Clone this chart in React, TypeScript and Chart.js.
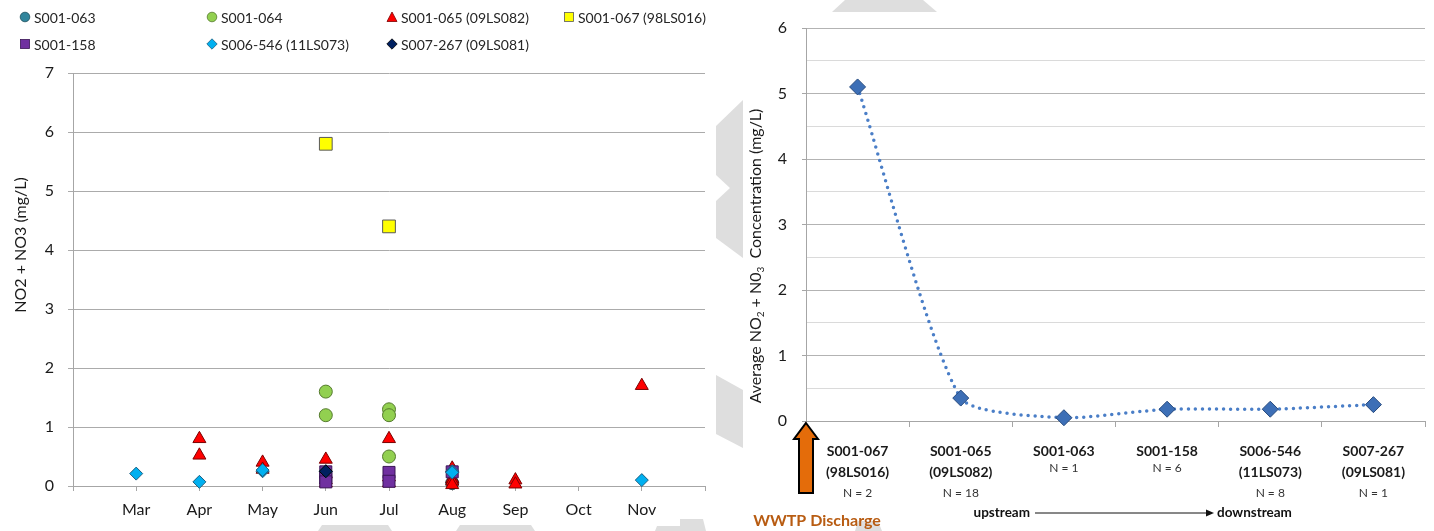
import React, { useEffect, useRef } from 'react';
import { Chart, registerables } from 'chart.js';

Chart.register(...registerables);

const FONT = 'Lato, "Open Sans", sans-serif';

// ---------- Left chart data (x = sampling month number, 3 = Mar) ----------
const monthLabels = ['Mar', 'Apr', 'May', 'Jun', 'Jul', 'Aug', 'Sep', 'Oct', 'Nov'];
const firstMonth = 3;

const s001_063_months = [8];
const s001_063_values = [0.05];

const s001_064_months = [6, 6, 7, 7, 7];
const s001_064_values = [1.6, 1.2, 1.3, 1.2, 0.5];

const s001_065_months = [4, 4, 5, 5, 6, 6, 6, 6, 7, 7, 7, 8, 8, 8, 8, 9, 9, 11];
const s001_065_values = [0.8, 0.52, 0.4, 0.28, 0.45, 0.2, 0.1, 0.05, 0.8, 0.15, 0.05, 0.3, 0.12, 0.08, 0.02, 0.1, 0.03, 1.7];

const s001_067_months = [6, 7];
const s001_067_values = [5.8, 4.4];

const s001_158_months = [6, 6, 6, 7, 7, 8];
const s001_158_values = [0.24, 0.14, 0.07, 0.23, 0.08, 0.24];

const s006_546_months = [3, 4, 5, 5, 6, 8, 8, 11];
const s006_546_values = [0.21, 0.07, 0.25, 0.27, 0.25, 0.25, 0.23, 0.1];

const s007_267_months = [6];
const s007_267_values = [0.25];

const seriesNames = ['S001-063', 'S001-064', 'S001-065 (09LS082)', 'S001-067 (98LS016)', 'S001-158', 'S006-546 (11LS073)', 'S007-267 (09LS081)'];
const seriesMonths = [s001_063_months, s001_064_months, s001_065_months, s001_067_months, s001_158_months, s006_546_months, s007_267_months];
const seriesValues = [s001_063_values, s001_064_values, s001_065_values, s001_067_values, s001_158_values, s006_546_values, s007_267_values];
const seriesFill = ['#31859C', '#92D050', '#FF0000', '#FFFF00', '#7030A0', '#00B0F0', '#002060'];
const seriesBorder = ['#1D4F5C', '#557A2E', '#7A0000', '#595959', '#3A1656', '#1D5F80', '#000000'];
const seriesShape = ['circle', 'circle', 'triangle', 'rect', 'rect', 'rectRot', 'rectRot'];
const seriesRadius = [6.5, 6.5, 7.5, 9, 8.5, 6.5, 6.5];

// ---------- Right chart data ----------
const sites = ['S001-067', 'S001-065', 'S001-063', 'S001-158', 'S006-546', 'S007-267'];
const siteCodes = ['(98LS016)', '(09LS082)', '', '', '(11LS073)', '(09LS081)'];
const siteN = [2, 18, 1, 6, 8, 1];
const siteAvg = [5.1, 0.35, 0.05, 0.18, 0.18, 0.25];

// light-grey watermark fragments (page coordinates)
const watermark = [
  '845,0 923,0 937,12 832,12',
  '743,100 716,126 716,175 730,188 716,201 716,238 743,258',
  '716,375 743,390 743,448 716,434',
  '322,525 388,525 392,531 318,531',
  '460,525 531,525 535,531 456,531',
  '657,526 680,526 682,531 655,531',
  '680,519 703,519 706,531 680,531',
  '858,521 878,521 882,531 855,531',
];

type Seg = { t: string; sub?: boolean };

function drawRotatedRich(ctx: CanvasRenderingContext2D, segs: Seg[], cx: number, cy: number, size: number) {
  ctx.save();
  ctx.translate(cx, cy);
  ctx.rotate(-Math.PI / 2);
  ctx.textBaseline = 'middle';
  ctx.textAlign = 'left';
  ctx.fillStyle = '#1a1a1a';
  const fMain = `${size}px ${FONT}`;
  const fSub = `${Math.round(size * 0.62)}px ${FONT}`;
  let total = 0;
  segs.forEach((s) => {
    ctx.font = s.sub ? fSub : fMain;
    total += ctx.measureText(s.t).width;
  });
  let x = -total / 2;
  segs.forEach((s) => {
    ctx.font = s.sub ? fSub : fMain;
    ctx.fillText(s.t, x, s.sub ? size * 0.32 : 0);
    x += ctx.measureText(s.t).width;
  });
  ctx.restore();
}

const leftDecor = {
  id: 'leftDecor',
  afterDraw(chart: any) {
    drawRotatedRich(chart.ctx, [{ t: 'NO2 + NO3 (mg/L)' }], 21, 245, 16);
  },
};

const rightDecor = {
  id: 'rightDecor',
  afterDraw(chart: any) {
    const { ctx, chartArea } = chart;
    const xs = chart.scales.x;
    const b = chartArea.bottom;
    const l = chartArea.left;
    ctx.save();
    ctx.textAlign = 'center';
    ctx.textBaseline = 'middle';
    sites.forEach((s, i) => {
      const px = xs.getPixelForValue(i);
      ctx.font = `bold 14px ${FONT}`;
      ctx.fillStyle = '#1a1a1a';
      ctx.fillText(s, px, b + 30);
      let ny = b + 47;
      if (siteCodes[i]) {
        ctx.fillText(siteCodes[i], px, b + 51);
        ny = b + 72;
      }
      ctx.font = `12px ${FONT}`;
      ctx.fillStyle = '#333';
      ctx.fillText('N = ' + siteN[i], px, ny);
    });

    // orange discharge arrow at the axis origin
    const ax = l;
    const ay = b + 2;
    ctx.beginPath();
    ctx.moveTo(ax, ay);
    ctx.lineTo(ax + 12, ay + 16);
    ctx.lineTo(ax + 7, ay + 16);
    ctx.lineTo(ax + 7, ay + 70);
    ctx.lineTo(ax - 7, ay + 70);
    ctx.lineTo(ax - 7, ay + 16);
    ctx.lineTo(ax - 12, ay + 16);
    ctx.closePath();
    ctx.fillStyle = '#E46C0A';
    ctx.fill();
    ctx.lineWidth = 2;
    ctx.strokeStyle = '#000';
    ctx.stroke();

    ctx.font = `bold 16px ${FONT}`;
    ctx.fillStyle = '#B85C12';
    ctx.textAlign = 'center';
    ctx.fillText('WWTP Discharge', ax + 11, b + 100);

    // upstream -> downstream
    const uy = b + 92;
    ctx.font = `bold 13.5px ${FONT}`;
    ctx.fillStyle = '#111';
    ctx.textAlign = 'right';
    ctx.fillText('upstream', l + 224, uy);
    ctx.textAlign = 'left';
    ctx.fillText('downstream', l + 411, uy);
    ctx.beginPath();
    ctx.moveTo(l + 229, uy);
    ctx.lineTo(l + 402, uy);
    ctx.lineWidth = 1;
    ctx.strokeStyle = '#111';
    ctx.stroke();
    ctx.beginPath();
    ctx.moveTo(l + 408, uy);
    ctx.lineTo(l + 400, uy - 3.5);
    ctx.lineTo(l + 400, uy + 3.5);
    ctx.closePath();
    ctx.fillStyle = '#111';
    ctx.fill();
    ctx.restore();

    drawRotatedRich(
      ctx,
      [
        { t: 'Average NO' },
        { t: '2', sub: true },
        { t: ' + N0' },
        { t: '3', sub: true },
        { t: '  Concentration (mg/L)' },
      ],
      41,
      256,
      16
    );
  },
};

function Marker({ shape, fill, stroke }: { shape: string; fill: string; stroke: string }) {
  return (
    <svg width={12} height={12} viewBox="-6 -6 12 12" style={{ display: 'block' }}>
      {shape === 'circle' && <circle r={4.8} fill={fill} stroke={stroke} strokeWidth={0.8} />}
      {shape === 'triangle' && <polygon points="0,-5 5,4.5 -5,4.5" fill={fill} stroke={stroke} strokeWidth={0.8} />}
      {shape === 'rect' && <rect x={-4.5} y={-4.5} width={9} height={9} fill={fill} stroke={stroke} strokeWidth={0.8} />}
      {shape === 'rectRot' && <polygon points="0,-5.2 5.2,0 0,5.2 -5.2,0" fill={fill} stroke={stroke} strokeWidth={0.8} />}
    </svg>
  );
}

const legendColX = [25, 212, 392, 569];
const legendRowY = [17, 44];

export default function App() {
  const leftRef = useRef<HTMLCanvasElement>(null);
  const rightRef = useRef<HTMLCanvasElement>(null);

  useEffect(() => {
    const left = new Chart(leftRef.current as HTMLCanvasElement, {
      type: 'scatter',
      data: {
        datasets: seriesNames.map((name, i) => ({
          label: name,
          data: seriesMonths[i].map((m, j) => ({ x: m, y: seriesValues[i][j] })),
          pointStyle: seriesShape[i] as any,
          pointRadius: seriesRadius[i],
          pointHoverRadius: seriesRadius[i],
          backgroundColor: seriesFill[i],
          borderColor: seriesBorder[i],
          borderWidth: 1,
          showLine: false,
          clip: false as any,
          order: -i,
        })),
      },
      options: {
        animation: false,
        responsive: false,
        events: [],
        layout: { padding: { top: 73, right: 7, left: 0, bottom: 0 } },
        plugins: { legend: { display: false }, tooltip: { enabled: false } },
        scales: {
          x: {
            type: 'linear',
            min: 2,
            max: 12,
            afterFit: (s: any) => {
              s.height = 45;
            },
            ticks: {
              stepSize: 1,
              autoSkip: false,
              maxRotation: 0,
              padding: 9,
              color: '#1a1a1a',
              font: { family: FONT, size: 16 },
              callback: (v: any) => monthLabels[Number(v) - firstMonth] ?? '',
            },
            grid: { drawOnChartArea: false, drawTicks: true, tickLength: 5, color: '#A6A6A6' },
            border: { color: '#A6A6A6' },
          },
          y: {
            min: 0,
            max: 7,
            afterFit: (s: any) => {
              s.width = 73;
            },
            ticks: {
              stepSize: 1,
              padding: 14,
              color: '#1a1a1a',
              font: { family: FONT, size: 16 },
            },
            grid: { color: '#ABABAB', tickLength: 5 },
            border: { color: '#A6A6A6' },
          },
        },
      },
      plugins: [leftDecor],
    } as any);

    const right = new Chart(rightRef.current as HTMLCanvasElement, {
      type: 'line',
      data: {
        labels: sites,
        datasets: [
          {
            data: siteAvg,
            borderColor: '#4A7EC7',
            borderWidth: 3.5,
            borderDash: [0, 7],
            borderCapStyle: 'round',
            tension: 0.2,
            pointStyle: 'rectRot',
            pointRadius: 8,
            pointHoverRadius: 8,
            pointBackgroundColor: '#3D6FB6',
            pointBorderColor: '#264A7E',
            pointBorderWidth: 1,
            fill: false,
            clip: false as any,
          },
        ],
      },
      options: {
        animation: false,
        responsive: false,
        events: [],
        layout: { padding: { top: 28, right: 4, left: 0, bottom: 0 } },
        plugins: { legend: { display: false }, tooltip: { enabled: false } },
        scales: {
          x: {
            type: 'category',
            offset: true,
            afterFit: (s: any) => {
              s.height = 110;
            },
            ticks: { callback: () => '', autoSkip: false, maxRotation: 0 },
            grid: { offset: true, drawOnChartArea: false, drawTicks: true, tickLength: 6, color: '#A6A6A6' },
            border: { color: '#A6A6A6' },
          },
          y: {
            min: 0,
            max: 6,
            afterFit: (s: any) => {
              s.width = 91;
            },
            ticks: {
              stepSize: 0.5,
              autoSkip: false,
              padding: 15,
              color: '#1a1a1a',
              font: { family: FONT, size: 16 },
              callback: (v: any) => (Number.isInteger(Number(v)) ? String(v) : ''),
            },
            grid: {
              tickLength: 4,
              color: (c: any) => (c.tick && Number.isInteger(c.tick.value) ? '#B3B3B3' : '#DADADA'),
              tickColor: (c: any) => (c.tick && Number.isInteger(c.tick.value) ? '#A6A6A6' : 'rgba(0,0,0,0)'),
            },
            border: { color: '#A6A6A6' },
          },
        },
      },
      plugins: [rightDecor],
    } as any);

    return () => {
      left.destroy();
      right.destroy();
    };
  }, []);

  return (
    <div
      style={{
        position: 'fixed',
        left: 0,
        top: 0,
        width: 1434,
        height: 531,
        background: '#fff',
        overflow: 'hidden',
        fontFamily: FONT,
      }}
    >
      <svg style={{ position: 'absolute', left: 0, top: 0 }} width={1434} height={531}>
        {watermark.map((pts, i) => (
          <polygon key={i} points={pts} fill="#DEDEDE" />
        ))}
      </svg>
      <canvas
        ref={leftRef}
        width={715}
        height={531}
        style={{ position: 'absolute', left: 0, top: 0, width: 715, height: 531 }}
      />
      <canvas
        ref={rightRef}
        width={719}
        height={531}
        style={{ position: 'absolute', left: 715, top: 0, width: 719, height: 531 }}
      />
      {seriesNames.map((name, i) => (
        <div
          key={name}
          style={{
            position: 'absolute',
            left: legendColX[i % 4] - 6,
            top: legendRowY[Math.floor(i / 4)] - 9,
            height: 18,
            display: 'flex',
            alignItems: 'center',
            gap: 3,
            fontSize: 14,
            color: '#262626',
            whiteSpace: 'nowrap',
          }}
        >
          <Marker shape={seriesShape[i]} fill={seriesFill[i]} stroke={seriesBorder[i]} />
          <span>{name}</span>
        </div>
      ))}
    </div>
  );
}
